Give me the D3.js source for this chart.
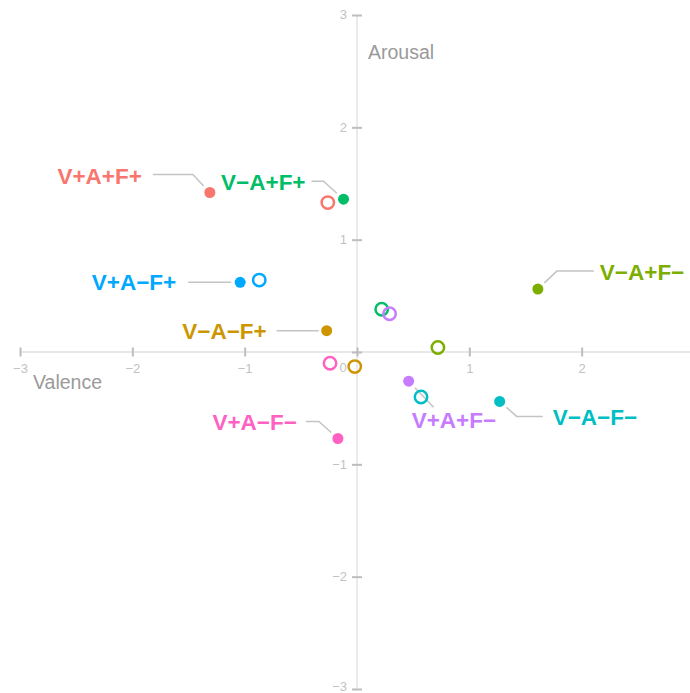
<!DOCTYPE html>
<html>
<head>
<meta charset="utf-8">
<script src="https://cdn.jsdelivr.net/npm/d3@7"></script>
<style>
  html, body { margin: 0; padding: 0; background: #fff; }
  svg { display: block; }
</style>
</head>
<body>
<svg id="chart" width="690" height="693"></svg>
<script>
// Condition groups (V = valence, A = arousal, F = feedback; + / −)
const groups = ["V+A+F+", "V\u2212A+F+", "V+A\u2212F+", "V\u2212A\u2212F+",
                "V\u2212A+F\u2212", "V+A+F\u2212", "V\u2212A\u2212F\u2212", "V+A\u2212F\u2212"];
const groupColors = ["#F8766D", "#00BE67", "#00A9FF", "#CD9600",
                     "#7CAE00", "#C77CFF", "#00BFC4", "#FF61C3"];

// Filled markers (labelled) — valence / arousal
const filledValence = [-1.31, -0.12, -1.04, -0.27, 1.61, 0.46, 1.27, -0.17];
const filledArousal = [ 1.42,  1.36,  0.62,  0.19, 0.56, -0.26, -0.44, -0.77];

// Open markers — valence / arousal
const openValence = [-0.26, -0.87, 0.22, 0.29, 0.72, -0.24, -0.02, 0.57];
const openArousal = [ 1.33,  0.64, 0.38, 0.34, 0.04, -0.10, -0.13, -0.40];
// group index of each open marker
const openGroup = [0, 2, 1, 5, 4, 7, 3, 6];

const ticks = [-3, -2, -1, 0, 1, 2, 3];

// Label leader layout (pixel offsets from the filled marker):
// elbow dx/dy, outer end dx, text dx, text dy (relative to elbow y), anchor
const leaderLayout = [
  { ex: -17, ey: -18, fx: -57, tx: -68, ty: 1, anchor: "end" },
  { ex: -20, ey: -18, fx: -32, tx: -38, ty: 1, anchor: "end" },
  { ex: -10, ey: 0,   fx: -52, tx: -64, ty: 0, anchor: "end" },
  { ex: -8,  ey: 0,   fx: -50, tx: -60, ty: 0, anchor: "end" },
  { ex: 19,  ey: -18, fx: 56,  tx: 62,  ty: 1, anchor: "start" },
  { ex: 25,  ey: 26,  fx: 25,  tx: 3,   ty: 13, anchor: "start" },
  { ex: 17,  ey: 15,  fx: 43,  tx: 53,  ty: 0, anchor: "start" },
  { ex: -19, ey: -17, fx: -32, tx: -41, ty: 0, anchor: "end" }
];

const font = "'Liberation Sans', Arial, Helvetica, sans-serif";
const svg = d3.select("#chart");
const x = d3.scaleLinear().domain([-3, 3]).range([20, 694]);
const y = d3.scaleLinear().domain([-3, 3]).range([689, 15]);
const x0 = x(0), y0 = y(0);

const axisColor = "#e0e0e0", tickColor = "#bdbdbd", tickText = "#c2c2c2";
const fmt = d => d === 0 ? "" : d3.format("d")(d).replace("-", "\u2212");

// Axis lines
svg.append("line").attr("x1", x(-3)).attr("x2", 690).attr("y1", y0).attr("y2", y0)
  .attr("stroke", axisColor).attr("stroke-width", 1.3);
svg.append("line").attr("x1", x0).attr("x2", x0).attr("y1", y(3)).attr("y2", y(-3))
  .attr("stroke", axisColor).attr("stroke-width", 1.3);

// X axis ticks through the origin
const xAxis = d3.axisBottom(x).tickValues(ticks.slice(0, 6)).tickSize(0).tickFormat(fmt);
const gx = svg.append("g").attr("transform", `translate(0,${y0})`).call(xAxis);
gx.select(".domain").remove();
gx.selectAll(".tick line").attr("y1", -4.5).attr("y2", 4.5)
  .attr("stroke", tickColor).attr("stroke-width", 2);
gx.selectAll(".tick text").attr("y", 21).attr("dy", 0)
  .attr("fill", tickText).attr("font-size", 13).attr("font-family", font);

const yAxis = d3.axisLeft(y).tickValues(ticks).tickSize(0).tickFormat(fmt);
const gy = svg.append("g").attr("transform", `translate(${x0},0)`).call(yAxis);
gy.select(".domain").remove();
gy.selectAll(".tick line").attr("x1", -5).attr("x2", 5)
  .attr("stroke", tickColor).attr("stroke-width", 2);
gy.selectAll(".tick text").attr("x", -10)
  .attr("dy", d => d === -3 ? "0.12em" : "0.3em")
  .attr("fill", tickText).attr("font-size", 13).attr("font-family", font);

// Shared origin label
svg.append("text").attr("x", x0 - 14).attr("y", y0 + 15).attr("dy", "0.35em")
  .attr("text-anchor", "middle").attr("fill", tickText).attr("font-size", 13)
  .attr("font-family", font).text("0");

// Axis titles
svg.append("text").attr("x", x(-3) + 13).attr("y", y0 + 37)
  .attr("fill", "#9a9a9a").attr("font-size", 19.5).attr("font-family", font)
  .text("Valence");
svg.append("text").attr("x", x0 + 11).attr("y", y(3) + 44)
  .attr("fill", "#9a9a9a").attr("font-size", 19.5).attr("font-family", font)
  .text("Arousal");

// Leader lines and labels
const filled = groups.map((g, i) => ({
  name: g, color: groupColors[i], v: filledValence[i], a: filledArousal[i], lay: leaderLayout[i]
}));

const gap = 9;
filled.forEach(d => {
  const px = x(d.v), py = y(d.a), L = d.lay;
  const ex = px + L.ex, ey = py + L.ey;
  const len = Math.hypot(L.ex, L.ey);
  const sx = px + L.ex / len * gap, sy = py + L.ey / len * gap;
  const pts = [[sx, sy], [ex, ey], [px + L.fx, ey]];
  svg.append("path").attr("d", d3.line()(pts))
    .attr("fill", "none").attr("stroke", "#c4c4c4").attr("stroke-width", 1.5);
  svg.append("text").attr("x", px + L.tx).attr("y", ey + L.ty).attr("dy", "0.36em")
    .attr("text-anchor", L.anchor).attr("fill", d.color)
    .attr("font-size", 22.5).attr("font-weight", 700).attr("font-family", font)
    .text(d.name);
});

// Open markers
svg.append("g").selectAll("circle")
  .data(openValence.map((v, i) => ({ v, a: openArousal[i], color: groupColors[openGroup[i]] })))
  .join("circle")
  .attr("cx", d => x(d.v)).attr("cy", d => y(d.a)).attr("r", 6.2)
  .attr("fill", "none").attr("stroke", d => d.color).attr("stroke-width", 2.5);

// Filled markers
svg.append("g").selectAll("circle")
  .data(filled).join("circle")
  .attr("cx", d => x(d.v)).attr("cy", d => y(d.a)).attr("r", 5.5)
  .attr("fill", d => d.color);
</script>
</body>
</html>
